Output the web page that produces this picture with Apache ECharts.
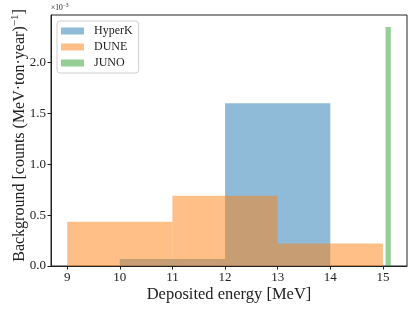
<!DOCTYPE html>
<html><head><meta charset="utf-8">
<script src="https://cdn.jsdelivr.net/npm/echarts@6/dist/echarts.min.js"></script>
<style>html,body{margin:0;padding:0;background:#fff}#c{width:415px;height:312px}</style>
</head><body><div id="c"></div>
<script>
// Values in units of 1e-3 counts (MeV·ton·year)^-1
const seriesNames = ['HyperK', 'DUNE', 'JUNO'];
const hyperkLeft  = [10, 12];
const hyperkRight = [12, 14];
const hyperkValues = [0.07, 1.6];
const duneLeft  = [9, 11, 13];
const duneRight = [11, 13, 15];
const duneValues = [0.435, 0.69, 0.22];
const junoLeft  = [15.05];
const junoRight = [15.15];
const junoValues = [2.35];
const yTickLabels = ['0.0', '0.5', '1.0', '1.5', '2.0'];

const FONT = '"Liberation Serif", "DejaVu Serif", serif';
const colors = ['rgba(31,119,180,0.5)', 'rgba(255,127,14,0.5)', 'rgba(44,160,44,0.5)'];

function rows(l, r, v) { return l.map((x, i) => [x, r[i], v[i]]); }
const datasets = [rows(hyperkLeft, hyperkRight, hyperkValues),
                  rows(duneLeft, duneRight, duneValues),
                  rows(junoLeft, junoRight, junoValues)];

function renderItem(params, api) {
  const p0 = api.coord([api.value(0), 0]);
  const p1 = api.coord([api.value(1), api.value(2)]);
  return {
    type: 'rect',
    shape: { x: p0[0], y: p1[1], width: p1[0] - p0[0], height: p0[1] - p1[1] },
    style: { fill: api.visual('color') }
  };
}

const chart = echarts.init(document.getElementById('c'), null, { renderer: 'canvas' });
chart.setOption({
  animation: false,
  backgroundColor: '#fff',
  grid: { left: 51, top: 15, right: 8, bottom: 46, show: true, borderColor: '#222', borderWidth: 1,
          containLabel: false, outerBoundsMode: 'none' },
  legend: {
    orient: 'vertical', left: 57, top: 21,
    data: seriesNames.map((n, i) => ({ name: n, icon: 'rect', itemStyle: { color: colors[i] } })),
    itemWidth: 23, itemHeight: 7, itemGap: 4,
    padding: [4, 6, 4, 4],
    borderColor: '#d0d0d0', borderWidth: 1, borderRadius: 3,
    textStyle: { fontFamily: FONT, fontSize: 12, lineHeight: 10, color: '#222', padding: [0, 0, 0, 5] }
  },
  xAxis: {
    type: 'value', min: 8.6925, max: 15.4575, splitNumber: 7,
    name: 'Deposited energy [MeV]', nameLocation: 'middle', nameGap: 20, nameMoveOverlap: false,
    nameTextStyle: { fontFamily: FONT, fontSize: 16.5, color: '#222' },
    axisLine: { show: true, onZero: false, lineStyle: { color: '#222', width: 1 } },
    axisTick: { show: true, inside: false, length: 3.5, lineStyle: { color: '#222' } },
    axisLabel: { fontFamily: FONT, fontSize: 13, color: '#222', margin: 5, showMinLabel: false, showMaxLabel: false,
      formatter: v => String(v) },
    splitLine: { show: false }
  },
  yAxis: {
    type: 'value', min: 0, max: 2.4675,
    name: '{a|Background [counts (MeV·ton·year)}{s|−1}{a|]}', nameLocation: 'middle', nameRotate: 90, nameGap: 22,
    nameMoveOverlap: false,
    nameTextStyle: { padding: [0, 0, 0, 10], rich: {
      a: { fontFamily: FONT, fontSize: 16, color: '#222' },
      s: { fontFamily: FONT, fontSize: 11, color: '#222', verticalAlign: 'top', padding: [0, 0, 8, 0] }
    } },
    axisLine: { show: true, lineStyle: { color: '#222', width: 1 } },
    axisTick: { show: true, inside: false, length: 3.5, lineStyle: { color: '#222' } },
    axisLabel: { fontFamily: FONT, fontSize: 13, color: '#222', margin: 5, showMaxLabel: false,
      formatter: v => { const i = Math.round(v / 0.5); return yTickLabels[i] !== undefined ? yTickLabels[i] : ''; } },
    splitLine: { show: false }
  },
  graphic: [{
    type: 'text', left: 51, top: 3,
    style: { text: '{a|×10}{s|−3}', rich: {
      a: { fontFamily: FONT, fontSize: 7.5, fill: '#222' },
      s: { fontFamily: FONT, fontSize: 5.5, fill: '#222', padding: [0, 0, 4, 0] }
    } }
  }],
  series: datasets.map((d, i) => ({
    name: seriesNames[i], type: 'custom', renderItem,
    itemStyle: { color: colors[i] },
    encode: { x: [0, 1], y: 2 },
    data: d
  }))
});
</script></body></html>
